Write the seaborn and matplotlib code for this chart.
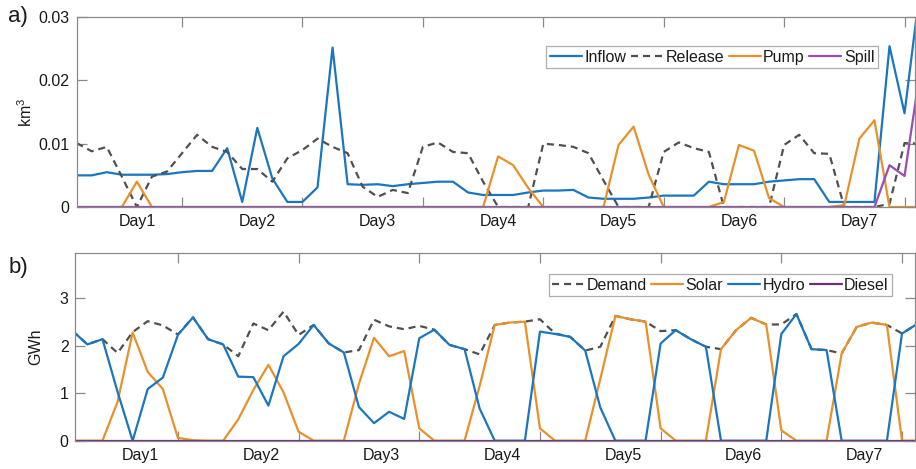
import numpy as np
import pandas as pd
import matplotlib
matplotlib.use("Agg")
import matplotlib.pyplot as plt
import seaborn as sns
from matplotlib.lines import Line2D

sns.set_theme(style="white")
plt.rcParams['font.family'] = ['Liberation Sans', 'DejaVu Sans']
plt.rcParams['mathtext.fontset'] = 'custom'
plt.rcParams['mathtext.rm'] = 'Liberation Sans'
plt.rcParams['mathtext.it'] = 'Liberation Sans:italic'

# ---------------- data (3-hourly steps) ----------------
hours = np.arange(57) * 3

inflow = [0.0050, 0.0050, 0.0055, 0.0051, 0.0051, 0.0051, 0.0052, 0.0055, 0.0057, 0.0057,
          0.0093, 0.0008, 0.0125, 0.0045, 0.0008, 0.0008, 0.0031, 0.0252, 0.0036, 0.0035,
          0.0036, 0.0033, 0.0036, 0.0038, 0.0040, 0.0040, 0.0023, 0.0019, 0.0019, 0.0019,
          0.0023, 0.0026, 0.0026, 0.0027, 0.0015, 0.0013, 0.0013, 0.0013, 0.0015, 0.0018,
          0.0018, 0.0018, 0.0040, 0.0036, 0.0036, 0.0036, 0.0040, 0.0042, 0.0044, 0.0044,
          0.0008, 0.0008, 0.0008, 0.0008, 0.0254, 0.0148, 0.0340]
release = [0.0101, 0.0088, 0.0095, 0.0048, 0.0000, 0.0048, 0.0056, 0.0085, 0.0114, 0.0095,
           0.0087, 0.0060, 0.0060, 0.0040, 0.0077, 0.0090, 0.0108, 0.0095, 0.0085, 0.0032,
           0.0016, 0.0027, 0.0022, 0.0095, 0.0102, 0.0087, 0.0085, 0.0040, 0.0000, 0.0000,
           0.0000, 0.0100, 0.0098, 0.0095, 0.0085, 0.0042, 0.0000, 0.0000, 0.0000, 0.0087,
           0.0102, 0.0093, 0.0087, 0.0000, 0.0000, 0.0000, 0.0000, 0.0098, 0.0114, 0.0085,
           0.0084, 0.0000, 0.0000, 0.0000, 0.0005, 0.0101, 0.0100]
pump = [0, 0, 0, 0, 0.0040, 0, 0, 0, 0, 0,
        0, 0, 0, 0, 0, 0, 0, 0, 0, 0,
        0, 0, 0, 0, 0, 0, 0, 0, 0.0080, 0.0066,
        0.0030, 0, 0, 0, 0, 0, 0.0098, 0.0127, 0.0051, 0,
        0, 0, 0, 0.0008, 0.0098, 0.0089, 0.0014, 0, 0, 0,
        0, 0.0003, 0.0108, 0.0137, 0, 0, 0]
spill = [0] * 54 + [0.0066, 0.0049, 0.0210]

demand = [2.32, 2.03, 2.14, 1.85, 2.29, 2.52, 2.43, 2.24, 2.60, 2.14,
          2.03, 1.78, 2.47, 2.33, 2.72, 2.23, 2.44, 2.05, 1.86, 1.91,
          2.55, 2.41, 2.35, 2.42, 2.34, 2.02, 1.93, 1.82, 2.44, 2.49,
          2.51, 2.56, 2.26, 2.19, 1.90, 1.98, 2.63, 2.56, 2.51, 2.31,
          2.33, 2.14, 1.98, 1.93, 2.33, 2.59, 2.45, 2.45, 2.67, 1.93,
          1.91, 1.84, 2.40, 2.49, 2.44, 2.26, 2.46]
solar = [0, 0, 0, 0.82, 2.28, 1.45, 1.09, 0.06, 0.01, 0,
         0, 0.45, 1.07, 1.60, 1.02, 0.19, 0, 0, 0, 1.20,
         2.17, 1.78, 1.89, 0.26, 0, 0, 0, 1.15, 2.44, 2.49,
         2.51, 0.26, 0, 0, 0, 1.30, 2.63, 2.56, 2.51, 0.26,
         0, 0, 0, 1.93, 2.33, 2.59, 2.45, 0.22, 0, 0,
         0, 1.84, 2.40, 2.49, 2.44, 0, 0]
hydro = [2.32, 2.03, 2.14, 1.03, 0, 1.09, 1.33, 2.23, 2.60, 2.14,
         2.03, 1.35, 1.34, 0.74, 1.78, 2.04, 2.44, 2.05, 1.86, 0.71,
         0.37, 0.61, 0.46, 2.16, 2.34, 2.02, 1.93, 0.68, 0, 0,
         0, 2.30, 2.25, 2.19, 1.90, 0.70, 0, 0, 0, 2.05,
         2.33, 2.14, 1.98, 0, 0, 0, 0, 2.25, 2.67, 1.93,
         1.91, 0, 0, 0, 0, 2.26, 2.46]
diesel = [0] * 57

day_labels = ["Day1", "Day2", "Day3", "Day4", "Day5", "Day6", "Day7"]

# ---------------- styling ----------------
BLUE = "#1B76C0"
GRAY = "#505050"
ORANGE = "#E8912A"
PURPLE_A = "#9A4DB0"
PURPLE_B = "#6E2F78"
SPINE = "#8a8a8a"
FS = 11.5
LW = 1.6
DASH = (0, (3.2, 2.2))

fig = plt.figure(figsize=(9.16, 4.69), dpi=100)
ax_a = fig.add_axes([0.0837, 0.5586, 0.9163 - 0.001, 0.405])
ax_b = fig.add_axes([0.0824, 0.0603, 0.9176 - 0.001, 0.3996])

def draw(ax, series, label_offset, xlim, ylim, yticks, yticklabels, ylabel, ylab_x):
    for name, vals, color, ls in series:
        df = pd.DataFrame({"hour": hours, "value": vals})
        sns.lineplot(data=df, x="hour", y="value", ax=ax, color=color,
                     linestyle=ls, linewidth=LW, legend=False, clip_on=True)
    ax.set_xlim(*xlim)
    ax.set_ylim(*ylim)
    ax.set_xticks([12 + label_offset + 24 * k for k in range(7)])
    ax.set_xticklabels(day_labels, fontsize=FS, color="#1a1a1a")
    ax.set_xticks([21 + 24 * k for k in range(7)], minor=True)
    ax.tick_params(axis="x", which="major", length=0, pad=5)
    ax.tick_params(axis="x", which="minor", length=7, width=0.9, direction="in",
                   top=True, bottom=True, color=SPINE)
    ax.set_yticks(yticks)
    ax.set_yticklabels(yticklabels, fontsize=FS, color="#1a1a1a")
    ax.tick_params(axis="y", which="major", length=7, width=0.9, direction="in",
                   left=True, right=True, color=SPINE, pad=5)
    ax.set_xlabel("")
    ax.set_ylabel(ylabel, fontsize=FS, color="#1a1a1a")
    ax.yaxis.set_label_coords(ylab_x, 0.5)
    for s in ax.spines.values():
        s.set_color(SPINE)
        s.set_linewidth(0.9)
    ax.grid(False)

series_a = [("Inflow", inflow, BLUE, "-"),
            ("Release", release, GRAY, DASH),
            ("Pump", pump, ORANGE, "-"),
            ("Spill", spill, PURPLE_A, "-")]
draw(ax_a, series_a, 0, (0, 167.1), (0, 0.03), [0, 0.01, 0.02, 0.03],
     ["0", "0.01", "0.02", "0.03"], "km$^3$", -0.0497)

series_b = [("Demand", demand, GRAY, DASH),
            ("Solar", solar, ORANGE, "-"),
            ("Hydro", hydro, BLUE, "-"),
            ("Diesel", diesel, PURPLE_B, "-")]
draw(ax_b, series_b, 1.5, (0.63, 167.6), (0, 3.95), [0, 1, 2, 3],
     ["0", "1", "2", "3"], "GWh", -0.0387)

def add_legend(ax, series, anchor):
    handles = [Line2D([0], [0], color=c, linestyle=ls, linewidth=LW) for _, _, c, ls in series]
    labels = [n for n, _, _, _ in series]
    leg = ax.legend(handles, labels, loc="upper left", bbox_to_anchor=anchor, ncol=4,
                    fontsize=FS, frameon=True, fancybox=False, handlelength=2.0,
                    handletextpad=0.15, columnspacing=0.3, borderpad=0.22,
                    borderaxespad=0)
    leg.get_frame().set_edgecolor("#9a9a9a")
    leg.get_frame().set_linewidth(0.9)
    for t in leg.get_texts():
        t.set_color("#1a1a1a")

add_legend(ax_a, series_a, (0.5603, 0.847))
add_legend(ax_b, series_b, (0.5634, 0.8895))

fig.text(0.009, 0.965, "a)", fontsize=16, va="center", ha="left", color="#1a1a1a")
fig.text(0.009, 0.43, "b)", fontsize=16, va="center", ha="left", color="#1a1a1a")

fig.savefig("out.png", dpi=100)
